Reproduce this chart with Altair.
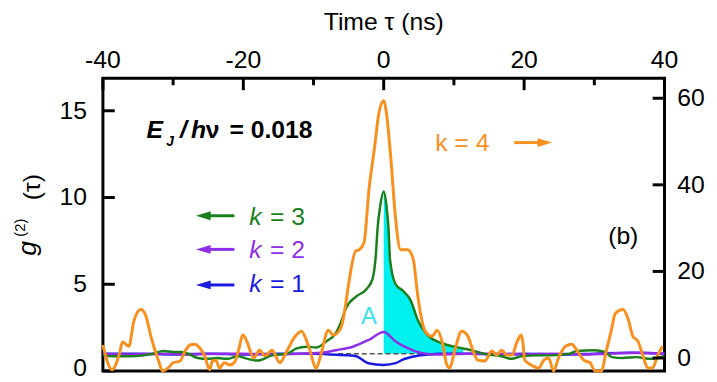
import altair as alt
import pandas as pd

FONT = "Liberation Sans"

# ---------------- data ----------------
# k = 4 (orange, right axis)
tau_k4 = [-40.0, -38.7, -37.7, -37.2, -36.3, -35.6, -34.6, -33.9, -33.1, -32.1, -31.5, -30.7, -30.0,
          -29.0, -28.3, -27.6, -26.9, -26.2, -25.5, -24.8, -24.4, -23.9, -23.4, -22.7, -22.0, -21.3,
          -20.6, -20.1, -19.7, -19.4, -18.5, -17.7, -16.9, -15.9, -14.8, -13.8, -12.8, -11.7, -10.7,
          -9.6, -8.9, -7.9, -7.2, -6.1, -5.6, -5.1, -4.0, -3.5, -2.8, -2.1, -1.3, -0.7, 0.0, 0.4, 1.0,
          1.7, 2.4, 3.4, 4.2, 4.8, 5.2, 5.9, 6.9, 7.6, 8.3, 9.0, 9.4, 10.1, 11.1, 12.0, 12.7, 13.4,
          14.4, 15.4, 16.1, 16.8, 17.5, 18.3, 18.9, 19.6, 19.8, 20.1, 21.0, 22.1, 22.8, 23.5, 24.2,
          24.9, 25.9, 26.8, 27.5, 28.5, 29.4, 30.1, 31.0, 31.7, 32.4, 33.0, 34.1, 34.8, 35.5, 36.2,
          36.9, 37.6, 38.3, 39.0, 39.7]
val_k4 = [3.0, -2.7, 0.7, 3.7, 2.7, 8.5, 11.2, 9.8, 4.6, -0.5, -3.0, -2.3, -1.1,
          -0.7, 1.6, 3.0, 3.2, 2.3, 0.5, -2.7, -0.7, -0.5, -2.3, -1.1, -1.6, -1.1,
          2.3, 5.3, 4.6, 3.4, 0.0, 1.8, 0.5, 1.8, -1.1, 1.6, 4.6, 6.2, 2.7,
          -2.3, 1.1, 6.4, 5.3, 6.9, 10.5, 16.0, 24.7, 25.0, 26.7, 38.9, 48.7, 56.4, 59.4, 56.4, 46.4,
          32.0, 25.0, 25.0, 22.9, 15.0, 10.7, 6.2, 5.0, 6.4, 3.9, -1.6, -2.3, 1.6, 6.2, 5.0, 1.8, -0.5,
          -0.7, 1.6, 0.7, 1.8, 0.7, 0.7, 3.4, 5.3, 3.9, -0.5, -1.6, -2.3, -0.5, 0.0, -3.0,
          0.0, 2.7, 3.2, 1.8, -0.5, -1.1, -3.0, -3.0, 1.6, 6.2, 10.3, 11.2, 9.1, 5.0, 3.9,
          0.7, -2.3, -2.3, 0.5, 2.7]

# k = 3 (green, left axis)
tau_k3 = [-40.0, -38.5, -36.3, -34.2, -32.8, -31.4, -30.0, -28.9, -27.9, -26.5, -25.1, -23.7, -22.3,
          -20.8, -19.4, -18.0, -15.9, -13.8, -12.4, -11.0, -9.6, -8.2, -6.8, -6.1, -5.4, -3.9, -2.5,
          -1.6, -1.1, -0.9, -0.5, 0.0, 0.4, 0.7, 0.9, 1.7, 2.8, 3.8, 4.9, 6.3, 8.3, 10.1, 11.3, 12.5,
          14.2, 16.8, 18.2, 19.6, 22.0, 24.0, 26.5, 27.5, 30.0, 31.5, 32.5, 34.0, 36.0, 38.0, 40.0]
val_k3 = [0.9, 0.85, 0.85, 0.9, 1.0, 1.15, 1.1, 1.1, 1.0, 0.75, 0.7, 0.75, 0.7,
          0.85, 0.7, 0.6, 0.9, 1.0, 1.3, 1.4, 1.35, 1.7, 2.2, 2.8, 3.6, 4.3, 4.7,
          5.3, 6.8, 8.1, 9.5, 10.35, 9.5, 8.1, 6.4, 5.0, 4.6, 4.1, 2.9, 2.05, 1.6, 1.4, 1.3, 1.2,
          1.0, 0.85, 0.7, 0.85, 0.9, 0.9, 1.0, 1.15, 1.2, 1.1, 0.8, 0.75, 0.8, 0.7, 0.85]

# k = 2 (purple, left axis)
tau_k2 = [-40, -36, -32, -28, -24, -20, -16, -12, -9.0, -6.8, -4.4, -2.1, 0.0, 1.7, 3.5, 5.9, 8.0,
          12, 16, 20, 24, 28, 32, 36, 40]
val_k2 = [1.0, 0.95, 1.0, 0.95, 1.0, 1.0, 0.95, 1.0, 1.05, 1.2, 1.4, 1.8, 2.25, 1.7, 1.3, 1.0, 0.95,
          1.0, 1.0, 0.95, 1.0, 0.95, 1.0, 1.05, 1.0]

# k = 1 (blue, left axis)
tau_k1 = [-40, -35, -30, -25, -20, -15, -10, -7.7, -5.0, -3.9, -2.2, 0.0, 1.7, 2.7, 4.5, 6.3, 8.0,
          12, 16, 20, 25, 30, 35, 40]
val_k1 = [1.0, 1.0, 0.95, 1.0, 0.95, 1.0, 1.0, 0.95, 0.9, 0.85, 0.45, 0.35, 0.45, 0.65, 0.85, 0.95,
          1.0, 1.0, 0.95, 1.0, 0.95, 1.0, 1.05, 1.0]

# shaded area A: between g = 1 and k = 3 curve, from tau = 0 to tau_area_end
baseline_g = 1.0
tau_area_start = 0.0
tau_area_end = 11.3
dash_tau = [-6.5, 10.0]

x_ticks_major = [-40, -20, 0, 20, 40]
x_ticks_minor = [-30, -10, 10, 30]
left_ticks = [0, 5, 10, 15]
right_ticks = [0, 20, 40, 60]

ORANGE = "#F7901E"
GREEN = "#1B7F1B"
PURPLE = "#8F2EE8"
BLUE = "#1A1AE0"
CYAN = "#00F0F0"
CYAN_TXT = "#38E3EE"

W, H = 568, 296

xs = alt.Scale(domain=[-40, 40], nice=False, zero=False)
ls = alt.Scale(domain=[0, 16.87], nice=False, zero=False)
rs = alt.Scale(domain=[-3, 64.6], nice=False, zero=False)

df4 = pd.DataFrame({"t": tau_k4, "v": val_k4})
df3 = pd.DataFrame({"t": tau_k3, "v": val_k3})
df2 = pd.DataFrame({"t": tau_k2, "v": val_k2})
df1 = pd.DataFrame({"t": tau_k1, "v": val_k1})
dfa = df3[(df3.t >= tau_area_start) & (df3.t <= tau_area_end)].copy()
dfa["base"] = baseline_g
dfd = pd.DataFrame({"t": [dash_tau[0]], "t2": [dash_tau[1]], "v": [baseline_g]})
one = pd.DataFrame({"a": [0]})


def txt(s, x, y, size=24, color="black", weight="normal", style="normal", align="left",
        baseline="alphabetic", angle=0):
    return alt.Chart(pd.DataFrame({"s": [s]})).mark_text(
        align=align, baseline=baseline, fontSize=size, color=color, fontWeight=weight,
        fontStyle=style, font=FONT, angle=angle
    ).encode(x=alt.value(x), y=alt.value(y), text="s:N")


def arrow(x1, x2, y, head_x, color, direction):
    shaft = alt.Chart(one).mark_rule(color=color, strokeWidth=3).encode(
        x=alt.value(x1), x2=alt.value(x2), y=alt.value(y))
    path = "M-1,0L1,-0.6L1,0.6Z" if direction == "left" else "M1,0L-1,-0.6L-1,0.6Z"
    head = alt.Chart(one).mark_point(shape=path, filled=True, color=color, opacity=1,
                                     size=220, strokeWidth=0).encode(
        x=alt.value(head_x), y=alt.value(y))
    return shaft + head


def line(df, color, width, scale=ls):
    return alt.Chart(df).mark_line(color=color, strokeWidth=width, interpolate="monotone").encode(
        x=alt.X("t:Q", scale=xs, axis=None),
        y=alt.Y("v:Q", scale=scale, axis=None),
    )


area = alt.Chart(dfa).mark_area(color=CYAN, opacity=1, interpolate="monotone").encode(
    x=alt.X("t:Q", scale=xs, axis=None),
    y=alt.Y("v:Q", scale=ls, axis=None),
    y2="base:Q",
)
dash = alt.Chart(dfd).mark_rule(color="#555555", strokeWidth=1.5, strokeDash=[5, 3]).encode(
    x=alt.X("t:Q", scale=xs, axis=None), x2="t2:Q", y=alt.Y("v:Q", scale=ls, axis=None))

# ticks (inward) and tick labels, positioned through the scales
xt_major = alt.Chart(pd.DataFrame({"t": x_ticks_major})).mark_rule(color="black", strokeWidth=3).encode(
    x=alt.X("t:Q", scale=xs, axis=None), y=alt.value(0), y2=alt.value(12))
xt_minor = alt.Chart(pd.DataFrame({"t": x_ticks_minor})).mark_rule(color="black", strokeWidth=3).encode(
    x=alt.X("t:Q", scale=xs, axis=None), y=alt.value(0), y2=alt.value(7))
xt_lab = alt.Chart(pd.DataFrame({"t": x_ticks_major, "s": [str(v) for v in x_ticks_major]})).mark_text(
    align="center", baseline="alphabetic", fontSize=25, font=FONT, color="black").encode(
    x=alt.X("t:Q", scale=xs, axis=None), y=alt.value(-10), text="s:N")

lt = alt.Chart(pd.DataFrame({"v": left_ticks})).mark_rule(color="black", strokeWidth=3).encode(
    y=alt.Y("v:Q", scale=ls, axis=None), x=alt.value(0), x2=alt.value(12))
lt_upper = [v for v in left_ticks if v > 0]
lt_zero = [v for v in left_ticks if v == 0]
lt_lab = alt.Chart(pd.DataFrame({"v": lt_upper, "s": [str(v) for v in lt_upper]})).mark_text(
    align="right", baseline="middle", fontSize=25, font=FONT, color="black").encode(
    y=alt.Y("v:Q", scale=ls, axis=None), x=alt.value(-16), text="s:N")
lt_lab0 = alt.Chart(pd.DataFrame({"v": lt_zero, "s": [str(v) for v in lt_zero]})).mark_text(
    align="right", baseline="middle", fontSize=25, font=FONT, color="black", dy=-3).encode(
    y=alt.Y("v:Q", scale=ls, axis=None), x=alt.value(-16), text="s:N")

rt = alt.Chart(pd.DataFrame({"v": right_ticks})).mark_rule(color="black", strokeWidth=3).encode(
    y=alt.Y("v:Q", scale=rs, axis=None), x=alt.value(W - 12), x2=alt.value(W))
rt_lab = alt.Chart(pd.DataFrame({"v": right_ticks, "s": [str(v) for v in right_ticks]})).mark_text(
    align="left", baseline="middle", fontSize=25, font=FONT, color="black").encode(
    y=alt.Y("v:Q", scale=rs, axis=None), x=alt.value(W + 13), text="s:N")

left_group = alt.layer(
    area,
    dash,
    line(df1, BLUE, 2.5),
    line(df2, PURPLE, 2.5),
    line(df3, GREEN, 2.5),
    xt_major, xt_minor, xt_lab, lt, lt_lab, lt_lab0,
    # legend arrows and texts
    arrow(107, 133, 139, 101.5, GREEN, "left"),
    arrow(107, 133, 173, 101.5, PURPLE, "left"),
    arrow(107, 133, 209, 101.5, BLUE, "left"),
    txt("k", 148, 148, 25, GREEN, style="italic"),
    txt("= 3", 169, 148, 25, GREEN),
    txt("k", 148, 182, 25, PURPLE, style="italic"),
    txt("= 2", 169, 182, 25, PURPLE),
    txt("k", 148, 216, 25, BLUE, style="italic"),
    txt("= 1", 169, 216, 25, BLUE),
    # E_J / h nu annotation
    txt("E", 44, 60, 25, weight="bold", style="italic"),
    txt("J", 64, 68, 14, weight="bold", style="italic"),
    txt("/", 78, 60, 25, weight="bold", style="italic"),
    txt("h", 89, 60, 25, weight="bold", style="italic"),
    txt("\u03bd", 104, 60, 25, weight="bold"),
    txt("= 0.018", 128, 60, 25, weight="bold"),
    txt("A", 269, 248, 24, CYAN_TXT, align="center"),
    txt("(b)", 511, 168, 25),
    # axis titles
    txt("Time \u03c4 (ns)", 284, -49, 25, align="center"),
    txt("g", -76, 172, 27, style="italic", align="center", baseline="middle", angle=270),
    txt("(2)", -84, 151, 15, align="center", baseline="middle", angle=270),
    txt("(\u03c4)", -72, 110, 25, align="center", baseline="middle", angle=270),
)

right_group = alt.layer(
    alt.Chart(df4).mark_line(color=ORANGE, strokeWidth=3, interpolate="monotone").encode(
        x=alt.X("t:Q", scale=xs, axis=None),
        y=alt.Y("v:Q", scale=rs, axis=None),
    ),
    rt, rt_lab,
    txt("k = 4", 336, 73, 25, ORANGE),
    arrow(416, 444, 65, 447, ORANGE, "right"),
)

chart = alt.layer(left_group, right_group).resolve_scale(y="independent").properties(
    width=W, height=H,
    autosize=alt.AutoSizeParams(type="none"),
    padding={"left": 96, "top": 69, "right": 45, "bottom": 9},
).configure(font=FONT).configure_view(stroke="black", strokeWidth=3)

chart.save("out.html", embed_options={"renderer": "svg", "actions": False})
